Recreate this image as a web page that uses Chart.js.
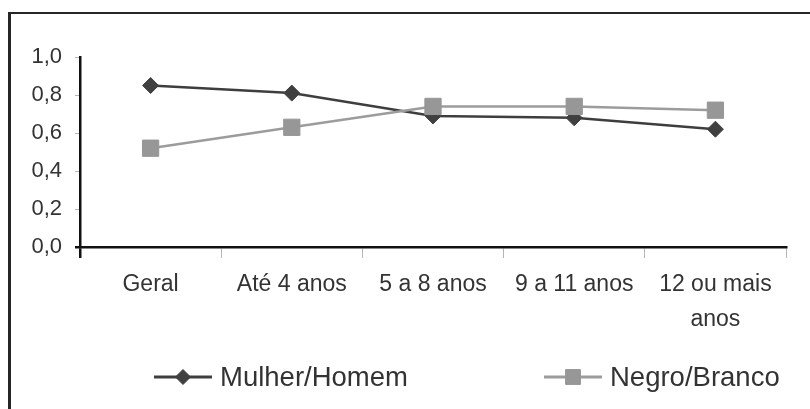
<!DOCTYPE html>
<html>
<head>
<meta charset="utf-8">
<script src="https://cdn.jsdelivr.net/npm/chart.js@4/dist/chart.umd.min.js"></script>
<style>
  html, body { margin: 0; padding: 0; background: #fff; }
  #wrap { position: relative; width: 810px; height: 409px; overflow: hidden; }
  #frame { position: absolute; left: 8px; top: 12px; width: 830px; height: 430px;
           border-left: 3px solid #262626; border-top: 2px solid #262626; }
  canvas { position: absolute; left: 0; top: 0; }
</style>
</head>
<body>
<div id="wrap">
  <div id="frame"></div>
  <canvas id="chart" width="810" height="409"></canvas>
</div>
<script>
// Categories (education level) and ratio series
const categories = ['Geral', 'Até 4 anos', '5 a 8 anos', '9 a 11 anos', ['12 ou mais', 'anos']];
const mulherHomem = [0.85, 0.81, 0.69, 0.68, 0.62];
const negroBranco = [0.52, 0.63, 0.74, 0.74, 0.72];
const seriesNames = ['Mulher/Homem', 'Negro/Branco'];
const yTicks = [0, 0.2, 0.4, 0.6, 0.8, 1.0];

const FONT = '"Liberation Sans", Arial, sans-serif';
const TEXT = '#333333';

// Legend drawn as "line + marker + label", the way the series appear in the plot
const lineLegend = {
  id: 'lineLegend',
  afterDraw(chart, args, opts) {
    const ctx = chart.ctx;
    chart.data.datasets.forEach((ds, i) => {
      const x0 = opts.starts[i];
      const y = opts.y;
      ctx.save();
      ctx.strokeStyle = ds.borderColor;
      ctx.lineWidth = 3;
      ctx.beginPath();
      ctx.moveTo(x0, y);
      ctx.lineTo(x0 + opts.lineLen, y);
      ctx.stroke();
      ctx.fillStyle = ds.pointBackgroundColor;
      ctx.strokeStyle = ds.pointBorderColor;
      ctx.lineWidth = 1;
      Chart.helpers.drawPoint(ctx, {
        pointStyle: ds.pointStyle, radius: opts.radius[i], rotation: 0, borderWidth: 1
      }, x0 + opts.lineLen / 2, y);
      ctx.fillStyle = TEXT;
      ctx.font = opts.fontSize + 'px ' + FONT;
      ctx.textBaseline = 'middle';
      ctx.textAlign = 'left';
      ctx.fillText(ds.label, x0 + opts.lineLen + opts.gap, y + 1);
      ctx.restore();
    });
  }
};

new Chart(document.getElementById('chart'), {
  type: 'line',
  data: {
    labels: categories,
    datasets: [
      {
        label: seriesNames[0],
        data: mulherHomem,
        order: 1,
        borderColor: '#3e3e3e',
        borderWidth: 2.5,
        pointStyle: 'rectRot',
        pointRadius: 8,
        pointBackgroundColor: '#404040',
        pointBorderColor: '#404040',
        pointBorderWidth: 1,
        tension: 0
      },
      {
        label: seriesNames[1],
        data: negroBranco,
        order: 0,
        borderColor: '#9c9c9c',
        borderWidth: 2.5,
        pointStyle: 'rect',
        pointRadius: 11.5,
        pointBackgroundColor: '#979797',
        pointBorderColor: '#979797',
        pointBorderWidth: 1,
        tension: 0
      }
    ]
  },
  options: {
    responsive: false,
    animation: false,
    devicePixelRatio: 1,
    layout: { padding: { left: 0, right: 24, top: 57, bottom: 0 } },
    plugins: {
      legend: { display: false },
      tooltip: { enabled: false },
      lineLegend: {
        starts: [154, 544], y: 377, lineLen: 58, gap: 8, fontSize: 27.5, radius: [7.5, 10.5]
      }
    },
    scales: {
      x: {
        offset: true,
        afterFit(scale) { scale.height = 162; },
        border: { display: true, color: '#111', width: 2.5 },
        grid: {
          offset: true,
          drawOnChartArea: false,
          drawTicks: true,
          tickLength: 11,
          color: (c) => (c.index === 0 ? '#111' : '#b5b5b5'),
          lineWidth: (c) => (c.index === 0 ? 2.5 : 1)
        },
        ticks: {
          color: TEXT,
          padding: 9,
          maxRotation: 0,
          autoSkip: false,
          font: { family: FONT, size: 23, lineHeight: 1.52 }
        }
      },
      y: {
        min: 0,
        max: 1,
        afterFit(scale) { scale.width = 80; },
        afterBuildTicks(scale) { scale.ticks = yTicks.map(v => ({ value: v })); },
        border: { display: true, color: '#111', width: 2.5 },
        grid: {
          drawOnChartArea: false,
          drawTicks: true,
          tickLength: 5,
          color: (c) => (c.tick && c.tick.value === 0 ? '#111' : '#b5b5b5'),
          lineWidth: (c) => (c.tick && c.tick.value === 0 ? 2.5 : 1)
        },
        ticks: {
          color: TEXT,
          padding: 13,
          font: { family: FONT, size: 22 },
          callback: (v) => Number(v).toFixed(1).replace('.', ',')
        }
      }
    }
  },
  plugins: [lineLegend]
});
</script>
</body>
</html>
